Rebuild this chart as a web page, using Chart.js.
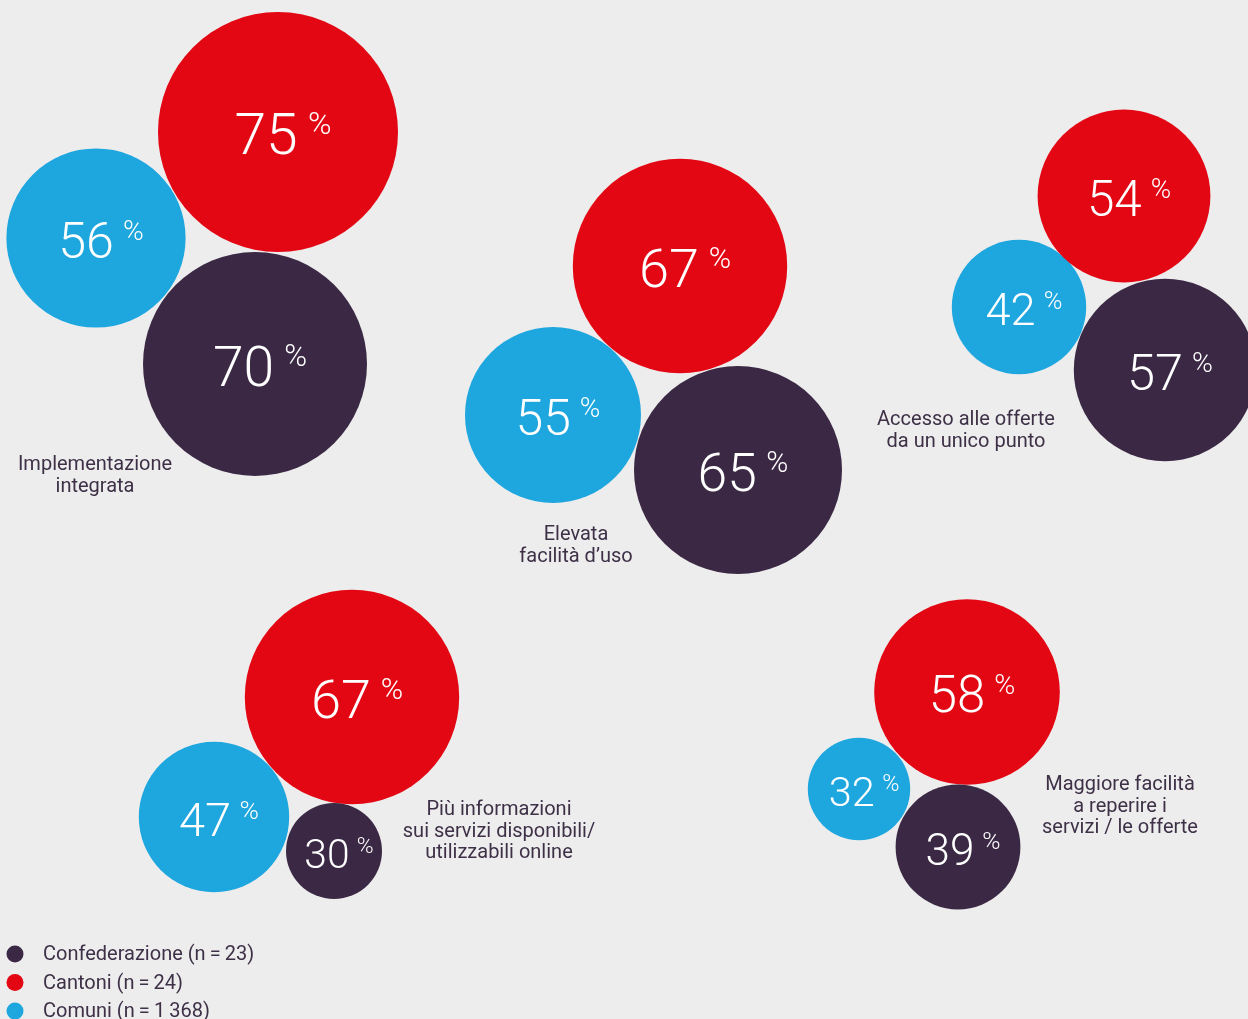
<!DOCTYPE html>
<html>
<head>
<meta charset="utf-8">
<title>Bubble</title>
<script src="https://cdn.jsdelivr.net/npm/chart.js"></script>
<style>
  html, body { margin: 0; padding: 0; background: #eeeded; }
  #wrap { width: 1248px; height: 1019px; }
</style>
</head>
<body>
<div id="wrap"><canvas id="chart" width="1248" height="1019"></canvas></div>
<script>
// temi
const categories = [
  ['Implementazione', 'integrata'],
  ['Elevata', 'facilità d’uso'],
  ['Accesso alle offerte', 'da un unico punto'],
  ['Più informazioni', 'sui servizi disponibili/', 'utilizzabili online'],
  ['Maggiore facilità', 'a reperire i', 'servizi / le offerte']
]
const seriesNames = ['Confederazione (n\u2009=\u200923)', 'Cantoni (n\u2009=\u200924)', 'Comuni (n\u2009=\u20091\u2009368)']

// percentuali per livello istituzionale
const confederazione = [70, 65, 57, 30, 39]
const cantoni = [75, 67, 54, 67, 58]
const comuni = [56, 55, 42, 47, 32]

// disposizione delle bolle (unità della griglia 1248 x 1019)
const confederazionePos = [[255, 364], [738, 470], [1165, 370], [334, 851], [958, 847]]
const cantoniPos = [[278, 132], [680, 266], [1124, 196], [352, 697], [967, 692]]
const comuniPos = [[96, 238], [553, 415], [1019, 307], [214, 817], [859, 789]]

// posizione delle etichette dei temi
const labelPos = [[95, 465], [576, 535], [966, 420], [499, 810], [1120, 785]]

const colors = ['#3a2844', '#e30613', '#1ea6de']
const textColor = '#3d3047'
const RADIUS_PER_POINT = 1.6

function toPoints (values, pos) {
  return values.map((v, i) => ({ x: pos[i][0], y: pos[i][1], r: v * RADIUS_PER_POINT, v }))
}

const bubbleLabels = {
  id: 'bubbleLabels',
  afterDatasetsDraw (chart) {
    const ctx = chart.ctx
    ctx.save()
    ctx.fillStyle = '#ffffff'
    ctx.textBaseline = 'alphabetic'
    ctx.textAlign = 'left'
    chart.data.datasets.forEach((ds, di) => {
      const meta = chart.getDatasetMeta(di)
      meta.data.forEach((el, i) => {
        const v = ds.data[i].v
        const fs = 30 + 0.36 * v
        const pfs = fs * 0.56
        const gap = fs * 0.18
        ctx.font = `300 ${fs}px Roboto`
        const wNum = ctx.measureText(String(v)).width
        ctx.font = `300 ${pfs}px Roboto`
        const wPct = ctx.measureText('%').width
        // il blocco numero + % è leggermente spostato a destra
        const x0 = el.x - (wNum + gap + wPct) / 2 + 5
        const cap = fs * 0.711
        const base = el.y + cap / 2 + 2
        ctx.font = `300 ${fs}px Roboto`
        ctx.fillText(String(v), x0, base)
        ctx.font = `300 ${pfs}px Roboto`
        ctx.fillText('%', x0 + wNum + gap, base - cap + pfs * 0.711 - 2)
      })
    })

    // etichette dei temi
    ctx.fillStyle = textColor
    ctx.textAlign = 'center'
    ctx.textBaseline = 'middle'
    ctx.font = '400 20px Roboto'
    categories.forEach((lines, i) => {
      lines.forEach((line, k) => {
        ctx.fillText(line, labelPos[i][0], labelPos[i][1] + k * 21.5)
      })
    })

    // legenda
    ctx.textAlign = 'left'
    seriesNames.forEach((name, i) => {
      const y = 954 + i * 28.5
      ctx.fillStyle = colors[i]
      ctx.beginPath()
      ctx.arc(15, y, 8.5, 0, Math.PI * 2)
      ctx.fill()
      ctx.fillStyle = textColor
      ctx.fillText(name, 43, y + 1)
    })
    ctx.restore()
  }
}

new Chart(document.getElementById('chart'), {
  type: 'bubble',
  data: {
    datasets: [
      { label: seriesNames[0], data: toPoints(confederazione, confederazionePos), backgroundColor: colors[0] },
      { label: seriesNames[1], data: toPoints(cantoni, cantoniPos), backgroundColor: colors[1] },
      { label: seriesNames[2], data: toPoints(comuni, comuniPos), backgroundColor: colors[2] }
    ]
  },
  options: {
    responsive: false,
    animation: false,
    events: [],
    clip: false,
    layout: { padding: 0, autoPadding: false },
    elements: { point: { borderWidth: 0, hoverRadius: 0 } },
    plugins: { legend: { display: false }, tooltip: { enabled: false } },
    scales: {
      x: { type: 'linear', min: 0, max: 1248, display: false, grace: 0 },
      y: { type: 'linear', min: 0, max: 1019, reverse: true, display: false, grace: 0 }
    }
  },
  plugins: [bubbleLabels]
})
</script>
</body>
</html>
